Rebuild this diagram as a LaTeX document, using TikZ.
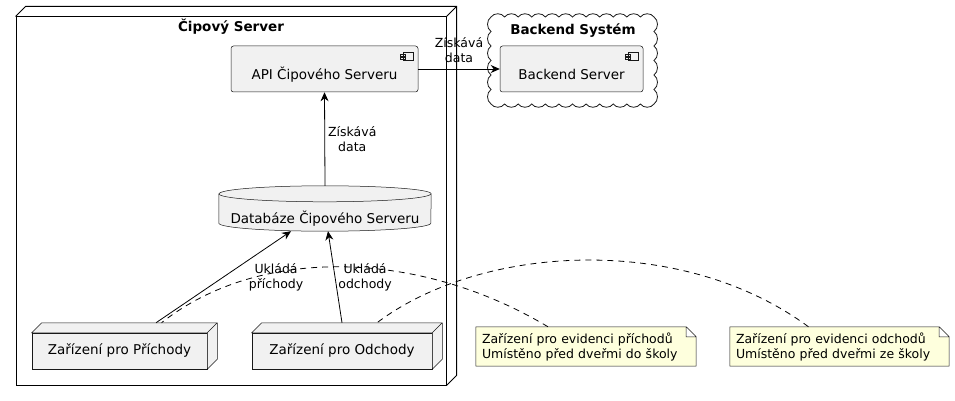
\documentclass[tikz,border=0pt]{standalone}
\usepackage{fontspec}
\setmainfont{DejaVu Sans}
\usetikzlibrary{arrows.meta,backgrounds}

\definecolor{umlfill}{HTML}{F1F1F1}
\definecolor{umlline}{HTML}{181818}
\definecolor{notefill}{HTML}{FEFFDD}

\begin{document}
\begin{tikzpicture}[x=1pt,y=-1pt,
    elem/.style={draw=umlline, line width=0.5pt, fill=umlfill},
    comp/.style={elem, rounded corners=2.5pt, minimum width=#1, minimum height=46pt,
        text height=24pt, text depth=2pt, font=\fontsize{13.5}{16}\selectfont},
    device/.style={elem, minimum width=#1, minimum height=36pt, font=\fontsize{13.5}{16}\selectfont},
    ttl/.style={font=\bfseries\fontsize{13.5}{16}\selectfont},
    notebox/.style={font=\fontsize{12.5}{15}\selectfont, align=left, text width=#1,
        inner xsep=6pt, minimum height=39pt},
    lbl/.style={font=\fontsize{12.5}{15}\selectfont, align=center, inner sep=0pt},
    link/.style={line width=0.8pt, -{Stealth[length=9pt,width=8pt]}},
    notelink/.style={line width=0.8pt, dash pattern=on 6pt off 5pt},
    bump/.style={bend left=55}]
    \useasboundingbox (0,0) rectangle (955,401);

    % Cipovy Server node
    \node[draw, line width=1pt, minimum width=430pt, minimum height=368pt] (cipsrv) at (231,201) {};
    \draw[line width=1pt] (cipsrv.north west) -- ++(10pt,10pt) -- ([shift={(10pt,10pt)}]cipsrv.north east)
        -- ([shift={(10pt,10pt)}]cipsrv.south east) -- (cipsrv.south east)
        (cipsrv.north east) -- ++(10pt,10pt);
    \node[ttl] (cipttl) at (231,27) {Čipový Server};

    % Backend cloud
    \draw[draw=umlline, line width=0.8pt, fill=white] (491,17)
        \foreach \i in {1,...,12} {to[bump] ++(13.583,0)}
        \foreach \i in {1,...,6} {to[bump] ++(0,14.5)}
        \foreach \i in {1,...,12} {to[bump] ++(-13.583,0)}
        \foreach \i in {1,...,6} {to[bump] ++(0,-14.5)} -- cycle;
    \node[ttl] (bksttl) at (573,31) {Backend Systém};

    \node[comp=187pt] (api) at (324.5,69) {API Čipového Serveru};
    \node[comp=143pt] (bksrv) at (571.5,69) {Backend Server};
    \foreach \c in {api,bksrv}
        \draw[umlline, line width=0.5pt] ([shift={(-15pt,-7pt)}]\c.north east) rectangle ([shift={(-5pt,-15pt)}]\c.north east)
            ([shift={(-18pt,-9pt)}]\c.north east) rectangle ([shift={(-13pt,-11pt)}]\c.north east)
            ([shift={(-18pt,-12pt)}]\c.north east) rectangle ([shift={(-13pt,-14pt)}]\c.north east);

    % database
    \node[minimum width=212pt, minimum height=45pt, text height=31pt, text depth=2pt,
        font=\fontsize{13.5}{16}\selectfont] (db) at (325,208.5) {Databáze Čipového Serveru};
    \begin{scope}[on background layer]
        \draw[elem] ([yshift=-8pt]db.north west) -- ([yshift=8pt]db.south west)
            arc[start angle=180, end angle=360, x radius=106pt, y radius=8pt]
            -- ([yshift=-8pt]db.north east)
            arc[start angle=0, end angle=180, x radius=106pt, y radius=8pt] -- cycle;
        \draw[umlline, line width=0.5pt] ([yshift=-8pt]db.north west)
            arc[start angle=180, end angle=360, x radius=106pt, y radius=8pt];
    \end{scope}

    % devices
    \node[device=175pt] (prich) at (119.5,351) {Zařízení pro Příchody};
    \node[device=180pt] (odch) at (342,351) {Zařízení pro Odchody};
    \foreach \d in {prich,odch}
        \draw[elem] (\d.north west) -- ++(10pt,10pt) -- ([shift={(10pt,10pt)}]\d.north east)
            -- ([shift={(10pt,10pt)}]\d.south east) -- (\d.south east) -- (\d.north east) -- cycle
            (\d.north east) -- ++(10pt,10pt);

    % notes
    \node[notebox=208pt] (notea) at (586,346.5) {Zařízení pro evidenci příchodů\\Umístěno před dveřmi do školy};
    \node[notebox=207pt] (noteb) at (839.5,346.5) {Zařízení pro evidenci odchodů\\Umístěno před dveřmi ze školy};
    \begin{scope}[on background layer]
        \foreach \n in {notea,noteb}
            \draw[draw=umlline, line width=0.5pt, fill=notefill] (\n.north west) -- ([xshift=-10pt]\n.north east)
                -- ([yshift=-10pt]\n.north east) -- (\n.south east) -- (\n.south west) -- cycle
                ([xshift=-10pt]\n.north east) -- ([shift={(-10pt,-10pt)}]\n.north east) -- ([yshift=-10pt]\n.north east);
    \end{scope}

    % connectors
    \draw[link] (db.north) -- node[lbl, right=3pt] {Získává\\data} (api.south);
    \draw[link] (api.east) -- node[lbl, above=6pt] {Získává\\data} (bksrv.west);
    \draw[link] ([shift={(36.5pt,10pt)}]prich.north) -- node[lbl, right=25pt] {Ukládá\\příchody} ([xshift=-34pt]db.south);
    \draw[link] ([yshift=10pt]odch.north) -- node[lbl, right=3pt] {Ukládá\\odchody} ([xshift=3pt]db.south);

    \draw[notelink] ([xshift=-38pt]notea.north) .. controls (420,250) and (260,245) .. ([shift={(42pt,10pt)}]prich.north);
    \draw[notelink] ([xshift=-31pt]noteb.north) .. controls (680,232) and (480,245) .. ([shift={(35pt,10pt)}]odch.north);
\end{tikzpicture}
\end{document}
